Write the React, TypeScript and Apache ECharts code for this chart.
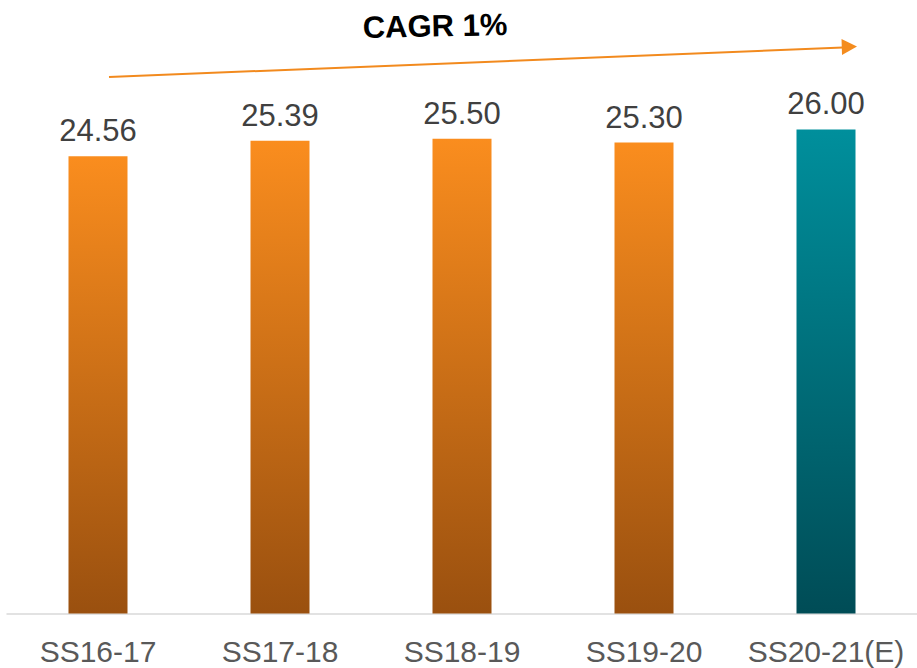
import React, { useEffect, useRef } from "react";
import * as echarts from "echarts";

const categories = ["SS16-17", "SS17-18", "SS18-19", "SS19-20", "SS20-21(E)"];
const values = [24.56, 25.39, 25.5, 25.3, 26.0];
const estimated = [false, false, false, false, true];
const cagrLabel = "CAGR 1%";

const FONT = '"Liberation Sans", Arial, sans-serif';

export default function App() {
  const ref = useRef<HTMLDivElement>(null);
  useEffect(() => {
    if (!ref.current) return;
    const chart = echarts.init(ref.current, null, { renderer: "svg" });
    const orange = new echarts.graphic.LinearGradient(0, 0, 0, 1, [
      { offset: 0, color: "#FA8D1E" },
      { offset: 1, color: "#9A500F" },
    ]);
    const teal = new echarts.graphic.LinearGradient(0, 0, 0, 1, [
      { offset: 0, color: "#008F9C" },
      { offset: 1, color: "#004C56" },
    ]);
    chart.setOption({
      animation: false,
      backgroundColor: "#ffffff",
      grid: { left: 7, width: 914, top: 55, height: 558.6 },
      xAxis: {
        type: "category",
        data: categories,
        axisLine: { show: true, lineStyle: { color: "#D9D9D9", width: 1.5 } },
        axisTick: { show: false },
        axisLabel: {
          color: "#595959",
          fontSize: 30,
          fontFamily: FONT,
          margin: 23,
          interval: 0,
        },
      },
      yAxis: {
        type: "value",
        min: 0,
        max: 30,
        show: false,
        splitLine: { show: false },
      },
      series: [
        {
          type: "bar",
          barWidth: 59,
          data: values.map((v, i) => ({
            value: v,
            itemStyle: { color: estimated[i] ? teal : orange },
          })),
          label: {
            show: true,
            position: "top",
            distance: 10,
            color: "#404040",
            fontSize: 31,
            fontFamily: FONT,
            formatter: (p: any) => Number(p.value).toFixed(2),
          },
        },
      ],
      graphic: [
        {
          type: "text",
          x: 435,
          y: 26,
          rotation: 0.02,
          style: {
            text: cagrLabel,
            fill: "#000000",
            font: `bold 31px ${FONT}`,
            textAlign: "center",
            textVerticalAlign: "middle",
          },
        },
        {
          type: "line",
          shape: { x1: 109, y1: 77, x2: 843, y2: 47.6 },
          style: { stroke: "#F28A1E", lineWidth: 2 },
        },
        {
          type: "polygon",
          shape: {
            points: [
              [857, 46.4],
              [841.5, 39],
              [842, 55],
            ],
          },
          style: { fill: "#F48C1E" },
        },
      ],
    });
    return () => chart.dispose();
  }, []);
  return (
    <div
      ref={ref}
      style={{ position: "absolute", left: 0, top: 0, width: 917, height: 668 }}
    />
  );
}
